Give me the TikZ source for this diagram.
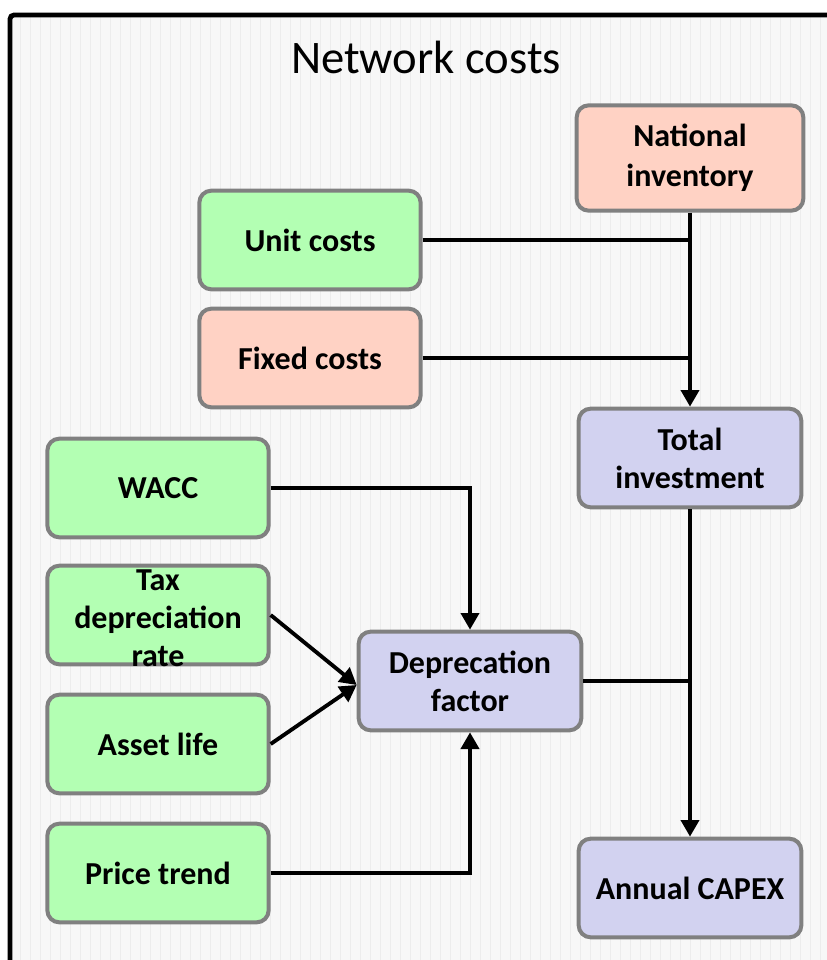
\documentclass[tikz,border=0pt]{standalone}
\usepackage{fontspec}
\setmainfont{Carlito}
\usetikzlibrary{arrows.meta}
\definecolor{fill_green}{RGB}{179,255,179}
\definecolor{fill_red}{RGB}{255,210,196}
\definecolor{fill_blue}{RGB}{210,210,240}
\definecolor{edge_gray}{RGB}{128,128,128}
\definecolor{back_gray}{RGB}{247,247,247}
\definecolor{grid_gray}{RGB}{236,236,236}

\begin{document}
\begin{tikzpicture}[x=0.75pt,y=-0.75pt,->,line width=2.9pt,>={Triangle[length=12.5pt,width=13.5pt]}]
    \tikzstyle{box}=[draw=edge_gray, line width=3pt, rounded corners=9pt, minimum width=166pt, minimum height=74pt, inner sep=2pt, align=center, text=black, font=\fontsize{24}{28.5}\selectfont\bfseries]
    \tikzstyle{boxgreen}=[style=box, fill=fill_green]
    \tikzstyle{boxred}=[style=box, fill=fill_red]
    \tikzstyle{boxblue}=[style=box, fill=fill_blue, minimum width=167pt]

    \useasboundingbox (0,0) rectangle (827,960);
    \clip (0,0) rectangle (827,960);
    \fill[back_gray] (10,15) rectangle (870,1000);
    \draw[-, grid_gray, line width=0.4pt, step=10] (12,17) grid (827,960);
    \draw[-, line width=3.6pt, rounded corners=3pt] (10,15) rectangle (870,1000);

    \node[font=\fontsize{35}{40}\selectfont] (title) at (426,57) {Network costs};

    \node[boxred, minimum width=170pt, minimum height=79pt, font=\fontsize{24}{30}\selectfont\bfseries] (inv) at (690,158) {National\\inventory};
    \node[boxgreen] (unit)  at (310,240) {Unit costs};
    \node[boxred]   (fix)   at (310,358) {Fixed costs};
    \node[boxblue]  (tot)   at (690,458) {Total\\investment};
    \node[boxgreen] (wacc)  at (158,488) {WACC};
    \node[boxgreen] (tax)   at (158,615) {\smash{\raisebox{-9pt}{\parbox[c]{160pt}{\centering Tax\\depreciation\\rate}}}};
    \node[boxgreen] (life)  at (158,744) {Asset life};
    \node[boxgreen] (price) at (158,873) {Price trend};
    \node[boxblue]  (dep)   at (470,681) {Deprecation\\factor};
    \node[boxblue]  (capex) at (690,888) {Annual CAPEX};

    \draw (inv) -- (tot);
    \draw[-] (unit) -- (unit -| inv);
    \draw[-] (fix) -- (fix -| tot);
    \draw (tot) -- (capex);
    \draw[-] (dep) -- (dep -| tot);
    \draw (wacc) -| (dep);
    \draw (price) -| (dep);
    \draw (tax.east) -- ([yshift=-3pt]dep.west);
    \draw (life.east) -- ([yshift=-3pt]dep.west);
\end{tikzpicture}
\end{document}
